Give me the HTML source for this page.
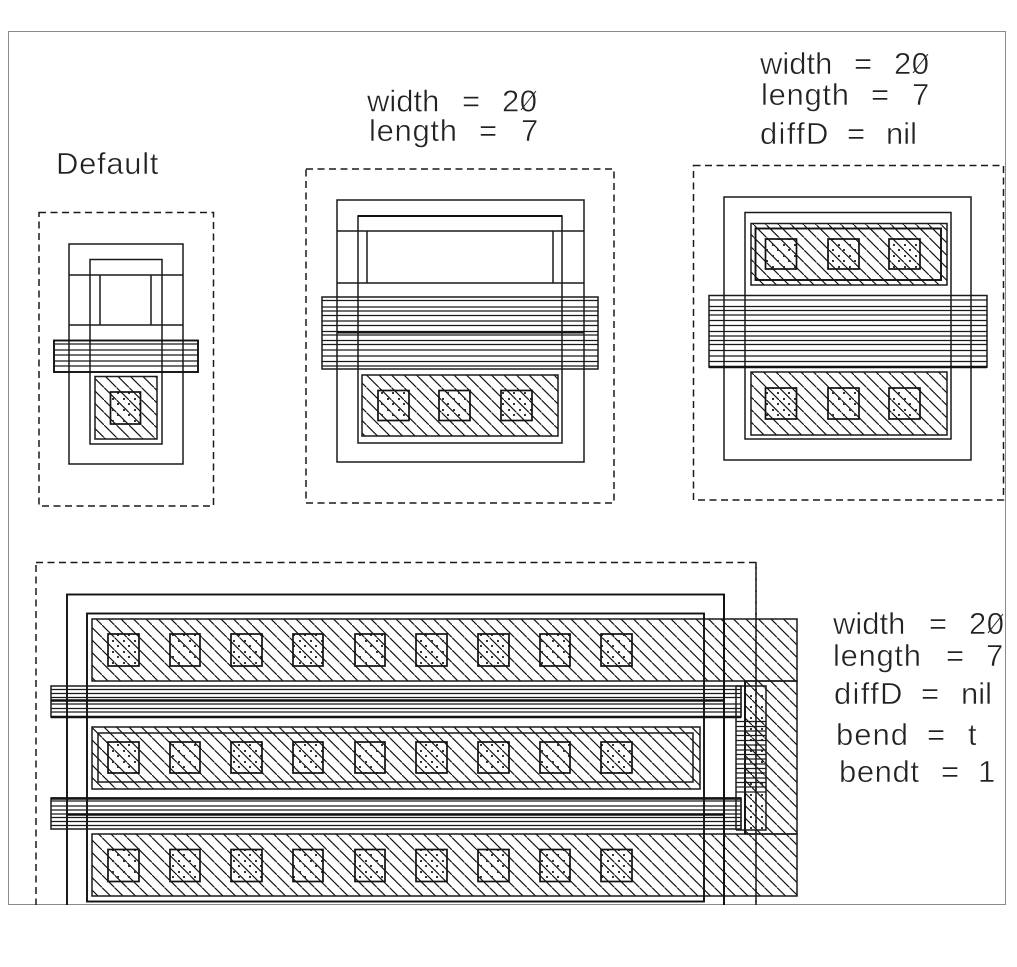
<!DOCTYPE html>
<html><head><meta charset="utf-8"><style>
html,body{margin:0;padding:0;background:#fff}
svg{display:block}
.l{fill:none;stroke:#1a1a1a;stroke-width:1.5}
.t{fill:none;stroke:#111;stroke-width:1.9}
.d{fill:none;stroke:#1a1a1a;stroke-width:1.5;stroke-dasharray:7 4.5}
.h{fill:url(#hatch);stroke:#1a1a1a;stroke-width:1.5}
.b{fill:url(#hatch2);stroke:#1a1a1a;stroke-width:1.5}
.c{fill:url(#dots);stroke:#111;stroke-width:1.7}
.p{fill:none;stroke:#1a1a1a;stroke-width:1.25}
text{font-family:"Liberation Sans",sans-serif;font-size:31px;fill:#222;stroke:#fff;stroke-width:.5}
.s{stroke:#222;stroke-width:1;fill:none}
</style></head><body>
<svg width="1017" height="967" viewBox="0 0 1017 967" xmlns="http://www.w3.org/2000/svg">
<defs>
<pattern id="hatch" width="12.5" height="12.5" patternUnits="userSpaceOnUse" patternTransform="translate(4 0)">
<path d="M-1 -1L13.5 13.5" stroke="#111" stroke-width="1.15" fill="none"/>
</pattern>
<pattern id="hatch2" width="12.5" height="12.5" patternUnits="userSpaceOnUse" patternTransform="translate(2 0)">
<path d="M-1 -1L13.5 13.5" stroke="#111" stroke-width="1.15" fill="none"/>
</pattern>
<pattern id="dots" width="11" height="11" patternUnits="userSpaceOnUse">
<rect x="2" y="2" width="2" height="2" fill="#333"/>
<rect x="7" y="7" width="2" height="2" fill="#333"/>
</pattern>
<clipPath id="cl"><rect x="8" y="31" width="997.5" height="874"/></clipPath>
</defs>
<rect x="8.5" y="31.5" width="997" height="873" fill="#fff" stroke="#8a8a8a" stroke-width="1"/>

<!-- Default -->
<rect class="d" x="39" y="212.5" width="174.5" height="293.5"/>
<rect class="l" x="69" y="244" width="114" height="220"/>
<rect class="l" x="90" y="259.5" width="72" height="184.5"/>
<path class="l" d="M69 275H183M69 325H183M100 275V325M151 275V325"/>
<rect class="h" x="95" y="376.5" width="62" height="62.5"/>
<rect class="c" x="110.5" y="392" width="30" height="32"/>
<rect class="t" x="54" y="340.5" width="144" height="31.5"/>
<path class="p" d="M54 344H198M54 350H198M54 355H198M54 361H198M54 366H198"/>

<!-- Width 20 -->
<rect class="d" x="306" y="169" width="308" height="334"/>
<rect class="l" x="337" y="200" width="247" height="262"/>
<rect class="l" x="358" y="216" width="204" height="227"/>
<path class="l" d="M337 231H584M337 283H584M367 231V283M553 231V283"/>
<path class="t" d="M358 216H562"/>
<rect class="h" x="362" y="375" width="196" height="61"/>
<rect class="c" x="378" y="390.5" width="31" height="30"/>
<rect class="c" x="439" y="390.5" width="31" height="30"/>
<rect class="c" x="501" y="390.5" width="31" height="30"/>
<rect class="l" x="322" y="297" width="276" height="72"/>
<path class="p" d="M322 300.5H598M322 307H598M322 311H598M322 315.5H598M322 321H598M322 325.5H598M322 331.5H598M322 335H598M322 340.5H598M322 344.5H598M322 350H598M322 356H598M322 361.5H598M322 366H598"/>
<path class="t" d="M337 332.5H584"/>

<!-- diffD nil -->
<rect class="d" x="693.5" y="165.5" width="310" height="334.5"/>
<rect class="l" x="724" y="197" width="247" height="263"/>
<rect class="l" x="745" y="212.5" width="206" height="226.5"/>
<rect class="h" x="751" y="223.5" width="196" height="61.5"/>
<rect class="t" x="755.5" y="228.5" width="185.5" height="51.5"/>
<rect class="c" x="765.5" y="239" width="31" height="30"/>
<rect class="c" x="828" y="239" width="31" height="30"/>
<rect class="c" x="889" y="239" width="31" height="30"/>
<rect class="h" x="751" y="372" width="196" height="63"/>
<rect class="c" x="765.5" y="388" width="31" height="31"/>
<rect class="c" x="828" y="388" width="31" height="31"/>
<rect class="c" x="889" y="388" width="31" height="31"/>
<rect class="l" x="709" y="295.5" width="278" height="71.5"/>
<path class="p" d="M709 300H987M709 306.5H987M709 310.5H987M709 315H987M709 320.5H987M709 325.5H987M709 331.5H987M709 336H987M709 340.5H987M709 344.5H987M709 350.5H987M709 356H987M709 361.5H987"/>
<path d="M709 367H987" stroke="#111" stroke-width="2.6" fill="none"/>

<!-- Bend -->
<g clip-path="url(#cl)">
<rect class="d" x="36" y="562.5" width="720" height="360"/>
<rect class="t" x="67" y="594.5" width="657" height="340"/>
<rect class="b" x="92" y="619" width="705" height="62"/>
<rect class="b" x="92" y="834" width="705" height="62"/>
<rect class="b" x="745" y="681" width="52" height="153"/>
<rect class="b" x="92" y="727" width="608" height="62"/>
<rect class="l" x="98" y="733" width="595" height="49"/>
<rect class="t" x="87" y="613.5" width="617" height="288"/>

<rect class="c" x="108" y="634" width="31" height="32"/><rect class="c" x="170" y="634" width="30" height="32"/><rect class="c" x="231" y="634" width="31" height="32"/><rect class="c" x="293" y="634" width="30" height="32"/><rect class="c" x="355" y="634" width="30" height="32"/><rect class="c" x="416" y="634" width="31" height="32"/><rect class="c" x="478" y="634" width="31" height="32"/><rect class="c" x="540" y="634" width="30" height="32"/><rect class="c" x="601" y="634" width="31" height="32"/>

<rect class="c" x="108" y="742" width="31" height="31"/><rect class="c" x="170" y="742" width="30" height="31"/><rect class="c" x="231" y="742" width="31" height="31"/><rect class="c" x="293" y="742" width="30" height="31"/><rect class="c" x="355" y="742" width="30" height="31"/><rect class="c" x="416" y="742" width="31" height="31"/><rect class="c" x="478" y="742" width="31" height="31"/><rect class="c" x="540" y="742" width="30" height="31"/><rect class="c" x="601" y="742" width="31" height="31"/>

<rect class="c" x="108" y="849.5" width="31" height="32"/><rect class="c" x="170" y="849.5" width="30" height="32"/><rect class="c" x="231" y="849.5" width="31" height="32"/><rect class="c" x="293" y="849.5" width="30" height="32"/><rect class="c" x="355" y="849.5" width="30" height="32"/><rect class="c" x="416" y="849.5" width="31" height="32"/><rect class="c" x="478" y="849.5" width="31" height="32"/><rect class="c" x="540" y="849.5" width="30" height="32"/><rect class="c" x="601" y="849.5" width="31" height="32"/>

<rect x="745" y="686" width="21" height="144" fill="url(#dots)"/>
<rect class="l" x="51" y="686" width="690" height="31"/>
<rect class="l" x="51" y="798" width="690" height="31"/>
<path class="p" d="M51 689.5H741M51 693.5H741M51 697.5H741M51 704H741M51 708.5H741M51 712H741M51 801H741M51 806H741M51 810H741M51 814H741M51 817.5H741M51 821.5H741M51 825.5H741"/>
<path d="M51 700.5H724M51 717H741M51 798.5H741M67 814.5H724" stroke="#111" stroke-width="2.4" fill="none"/>
<path class="l" d="M736 686V830M736 686H766V830H736"/>
<path class="t" d="M745 681V834"/>
<path class="p" d="M741 686V717M741 798V830M736 721.5H766M736 726.5H766M736 731H766M736 735.5H766M736 740.5H766M736 745H766M736 750H766M736 754.5H766M736 759H766M736 764H766M736 768.5H766M736 773H766M736 778H766M736 782.5H766M736 787H766M736 792H766"/>
<path class="d" d="M756 562V905"/>
<path class="t" d="M724 594V905"/>
</g>

<!-- Labels -->
<text y="174"><tspan x="56" letter-spacing=".7">Default</tspan></text>

<text y="111.5"><tspan x="367">width</tspan> <tspan x="462">=</tspan> <tspan x="502" letter-spacing=".5">20</tspan></text>
<text y="141"><tspan x="369" letter-spacing=".7">length</tspan> <tspan x="479">=</tspan> <tspan x="521">7</tspan></text>
<path class="s" d="M521 110L536 91"/>

<text y="74"><tspan x="760">width</tspan> <tspan x="854">=</tspan> <tspan x="894" letter-spacing=".5">20</tspan></text>
<text y="105"><tspan x="761" letter-spacing=".7">length</tspan> <tspan x="871">=</tspan> <tspan x="912">7</tspan></text>
<text y="144"><tspan x="760" letter-spacing="1.3">diffD</tspan> <tspan x="847">=</tspan> <tspan x="886">nil</tspan></text>
<path class="s" d="M913 73L928 54"/>

<text y="634"><tspan x="833">width</tspan> <tspan x="929">=</tspan> <tspan x="969" letter-spacing=".5">20</tspan></text>
<text y="666"><tspan x="833" letter-spacing=".7">length</tspan> <tspan x="946">=</tspan> <tspan x="986">7</tspan></text>
<text y="704"><tspan x="834" letter-spacing="1.3">diffD</tspan> <tspan x="921">=</tspan> <tspan x="961">nil</tspan></text>
<text y="745"><tspan x="836" letter-spacing="1">bend</tspan> <tspan x="927">=</tspan> <tspan x="968">t</tspan></text>
<text y="782"><tspan x="839" letter-spacing=".6">bendt</tspan> <tspan x="941">=</tspan> <tspan x="978">1</tspan></text>
<path class="s" d="M988 633L1003 614"/>
</svg>
</body></html>
